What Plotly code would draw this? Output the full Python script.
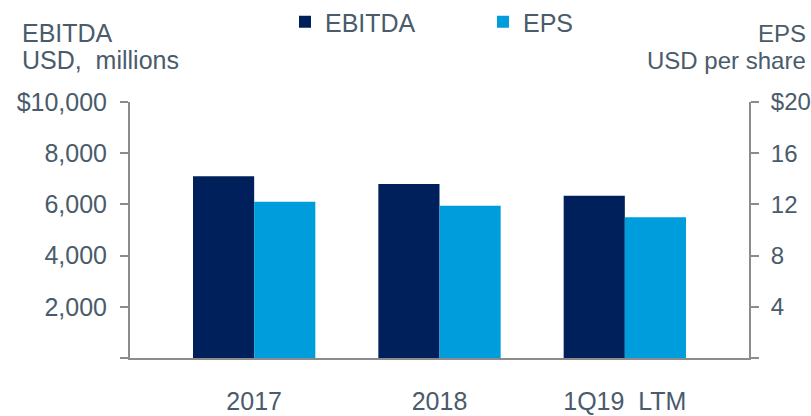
import plotly.graph_objects as go

categories = ["2017", "2018", "1Q19  LTM"]
ebitda = [7100, 6800, 6340]      # USD millions
eps = [12.2, 11.9, 11.0]         # USD per share

left_tickvals = [0, 2000, 4000, 6000, 8000, 10000]
left_ticktext = ["", "2,000", "4,000", "6,000", "8,000", "$10,000"]
right_tickvals = [0, 4, 8, 12, 16, 20]
right_ticktext = ["", "4", "8", "12", "16", "$20"]

NAVY = "#00205B"
CYAN = "#009DDC"
TXT = "#4A5B6B"
AX = "#8C8C8C"
FONT = "Liberation Sans, Arial, sans-serif"

fig = go.Figure()
fig.add_trace(go.Bar(x=categories, y=ebitda, name="EBITDA", marker_color=NAVY,
                     marker_line_width=0, offsetgroup=0, yaxis="y"))
fig.add_trace(go.Bar(x=categories, y=eps, name="EPS", marker_color=CYAN,
                     marker_line_width=0, offsetgroup=1, yaxis="y2"))

L, R, T, B = 130, 62, 102, 58
PW = 811 - L - R
PH = 416 - T - B


def px(xp):
    return (xp - L) / PW


def py(yp):
    return (416 - B - yp) / PH


fig.update_layout(
    width=811, height=416,
    margin=dict(l=L, r=R, t=T, b=B, pad=0, autoexpand=False),
    paper_bgcolor="white", plot_bgcolor="white",
    font=dict(family=FONT, size=25, color=TXT),
    barmode="group", bargap=0.34, bargroupgap=0,
    showlegend=True,
    legend=dict(orientation="h", x=px(285), xanchor="left", y=py(-1), yanchor="top",
                font=dict(size=25, color=TXT), entrywidth=153, entrywidthmode="pixels",
                bgcolor="rgba(0,0,0,0)", traceorder="normal"),
    xaxis=dict(range=[-0.67, 2.67], showline=True, linecolor=AX, linewidth=2,
               ticks="", showgrid=False, zeroline=False, ticklabelstandoff=20,
               automargin=False, tickfont=dict(size=25, color=TXT), fixedrange=True),
    yaxis=dict(range=[0, 10000], tickvals=left_tickvals, ticktext=left_ticktext,
               showline=True, linecolor=AX, linewidth=2, ticks="outside",
               ticklen=8, tickwidth=2, tickcolor=AX, showgrid=False, zeroline=False,
               automargin=False, ticklabelstandoff=8, tickfont=dict(size=25, color=TXT)),
    yaxis2=dict(range=[0, 20], tickvals=right_tickvals, ticktext=right_ticktext,
                overlaying="y", side="right",
                showline=True, linecolor=AX, linewidth=2, ticks="outside",
                ticklen=8, tickwidth=2, tickcolor=AX, showgrid=False, zeroline=False,
                automargin=False, ticklabelstandoff=7, tickfont=dict(size=24, color=TXT)),
    annotations=[
        dict(text="EBITDA", xref="paper", yref="paper", x=px(20), y=py(33),
             xanchor="left", yanchor="middle", showarrow=False, font=dict(size=25, color=TXT)),
        dict(text="USD,  millions", xref="paper", yref="paper", x=px(20), y=py(60),
             xanchor="left", yanchor="middle", showarrow=False, font=dict(size=25, color=TXT)),
        dict(text="EPS", xref="paper", yref="paper", x=px(808), y=py(33),
             xanchor="right", yanchor="middle", showarrow=False, font=dict(size=24, color=TXT)),
        dict(text="USD per share", xref="paper", yref="paper", x=px(808), y=py(60),
             xanchor="right", yanchor="middle", showarrow=False, font=dict(size=24, color=TXT)),
    ],
)

fig.write_html("out.html", config={"displayModeBar": False, "staticPlot": True},
               post_script="document.body.style.margin='0';")
